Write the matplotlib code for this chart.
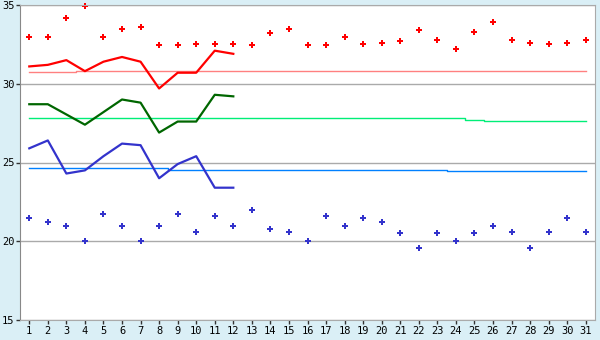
import numpy as np
import matplotlib
matplotlib.use('Agg')
import matplotlib.pyplot as plt

days = list(range(1, 32))

red_dots = [33.0, 33.0, 34.2, 34.95, 33.0, 33.5, 33.6, 32.45, 32.45, 32.5, 32.5, 32.5, 32.45,
            33.2, 33.5, 32.45, 32.45, 33.0, 32.5, 32.6, 32.7, 33.4, 32.8, 32.2, 33.3, 33.9,
            32.8, 32.6, 32.5, 32.6, 32.8]
blue_dots = [21.5, 21.2, 21.0, 20.0, 21.7, 21.0, 20.0, 21.0, 21.7, 20.6, 21.6, 21.0, 22.0,
             20.8, 20.6, 20.0, 21.6, 21.0, 21.5, 21.2, 20.5, 19.6, 20.5, 20.0, 20.5, 21.0,
             20.6, 19.6, 20.6, 21.5, 20.6]

line_days = list(range(1, 13))
red_line = [31.1, 31.2, 31.5, 30.8, 31.4, 31.7, 31.4, 29.7, 30.7, 30.7, 32.1, 31.9]
green_line = [28.7, 28.7, 28.05, 27.4, 28.2, 29.0, 28.8, 26.9, 27.6, 27.6, 29.3, 29.2]
blue_line = [25.9, 26.4, 24.3, 24.5, 25.4, 26.2, 26.1, 24.0, 24.9, 25.4, 23.4, 23.4]

red_avg = [30.75] * 3 + [30.8] * 28
green_avg = [27.8] * 24 + [27.7] + [27.62] * 6
blue_avg = [24.63] * 8 + [24.52] * 15 + [24.45] * 8

fig = plt.figure(figsize=(6, 3.4), dpi=100, facecolor='#daeff6')
ax = fig.add_axes([20 / 600, 20 / 340, 575 / 600, 315 / 340])
ax.set_facecolor('white')

ax.plot(days, red_avg, color='#ff8080', lw=1, drawstyle='steps-mid')
ax.plot(days, green_avg, color='#00ee77', lw=1, drawstyle='steps-mid')
ax.plot(days, blue_avg, color='#0080ff', lw=1, drawstyle='steps-mid')

ax.plot(line_days, red_line, color='#ff0000', lw=1.6)
ax.plot(line_days, green_line, color='#006600', lw=1.6)
ax.plot(line_days, blue_line, color='#3333cc', lw=1.6)

ax.plot(days, red_dots, ls='none', marker='P', ms=5, color='#ff0000', mew=0, clip_on=False)
ax.plot(days, blue_dots, ls='none', marker='P', ms=5, color='#3333cc', mew=0)

ax.set_xlim(0.5, 31.5)
ax.set_ylim(15, 35)
ax.set_xticks(days)
ax.set_yticks([15, 20, 25, 30, 35])
ax.grid(axis='y', color='#aaaaaa', lw=1)
ax.set_axisbelow(True)
for s in ax.spines.values():
    s.set_color('#aaaaaa')
ax.spines['left'].set_color('#888888')
ax.tick_params(colors='black', labelsize=7.5, length=3, width=1, pad=1)
ax.tick_params(axis='both', color='#333333')
for lab in ax.get_xticklabels() + ax.get_yticklabels():
    lab.set_family('DejaVu Sans Mono')

fig.savefig('out.png', dpi=100, facecolor=fig.get_facecolor())
